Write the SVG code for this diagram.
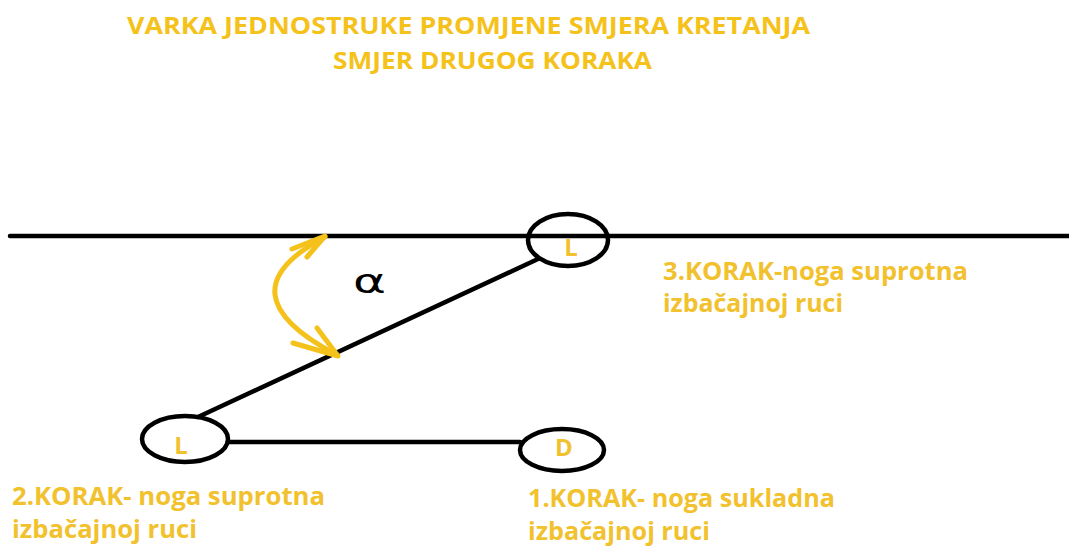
<svg xmlns="http://www.w3.org/2000/svg" width="1069" height="548" viewBox="0 0 1069 548">
<style>
.ttl{font-family:"Open Sans","Liberation Sans",sans-serif;font-weight:bold;font-size:24px;fill:#F4C21A}
.lbl{font-family:"Open Sans","Liberation Sans",sans-serif;font-weight:bold;font-size:25.5px;fill:#F2C12E}
.foot{font-family:"Open Sans","Liberation Sans",sans-serif;font-weight:bold;font-size:24px;fill:#F2C12E}
.ell{fill:none;stroke:#000;stroke-width:4.5}
.ln{stroke:#000;stroke-width:4.5;stroke-linecap:round;fill:none}
.arc{stroke:#F4C21A;stroke-width:5;stroke-linecap:round;stroke-linejoin:round;fill:none}
</style>
<rect width="1069" height="548" fill="#fff"/>
<g id="title">
<text class="ttl" x="127" y="34" textLength="683" lengthAdjust="spacingAndGlyphs">VARKA JEDNOSTRUKE PROMJENE SMJERA KRETANJA</text>
<text class="ttl" x="333" y="69" textLength="319" lengthAdjust="spacingAndGlyphs">SMJER DRUGOG KORAKA</text>
</g>
<g id="connectors">
<line class="ln" x1="10" y1="236" x2="1069" y2="236"/>
<line class="ln" x1="198" y1="417" x2="538" y2="259"/>
<line class="ln" x1="228" y1="442" x2="520" y2="442"/>
</g>
<g id="angle">
<path class="arc" d="M325,237 Q219,293 337,355"/>
<path class="arc" d="M292,249 L325,236 L307,257"/>
<path class="arc" d="M293,343 L338,356 L317,328"/>
<text x="353" y="293" font-family="DejaVu Sans, sans-serif" font-size="34" fill="#000" textLength="33" lengthAdjust="spacingAndGlyphs">α</text>
</g>
<g id="node-step3">
<ellipse class="ell" cx="568" cy="240" rx="40" ry="26"/>
<text class="foot" x="571" y="256" text-anchor="middle">L</text>
</g>
<g id="node-step2">
<ellipse class="ell" cx="185" cy="439" rx="43" ry="23"/>
<text class="foot" x="181" y="454" text-anchor="middle">L</text>
</g>
<g id="node-step1">
<ellipse class="ell" cx="562" cy="450" rx="42" ry="21"/>
<text class="foot" x="564" y="456" text-anchor="middle">D</text>
</g>
<g id="label-step3">
<text class="lbl" x="663" y="280" textLength="305" lengthAdjust="spacingAndGlyphs">3.KORAK-noga suprotna</text>
<text class="lbl" x="663" y="312" textLength="180" lengthAdjust="spacingAndGlyphs">izbačajnoj ruci</text>
</g>
<g id="label-step2">
<text class="lbl" x="12" y="505" textLength="313" lengthAdjust="spacingAndGlyphs">2.KORAK- noga suprotna</text>
<text class="lbl" x="12" y="538" textLength="185" lengthAdjust="spacingAndGlyphs">izbačajnoj ruci</text>
</g>
<g id="label-step1">
<text class="lbl" x="528" y="507" textLength="307" lengthAdjust="spacingAndGlyphs">1.KORAK- noga sukladna</text>
<text class="lbl" x="528" y="540" textLength="182" lengthAdjust="spacingAndGlyphs">izbačajnoj ruci</text>
</g>
</svg>
